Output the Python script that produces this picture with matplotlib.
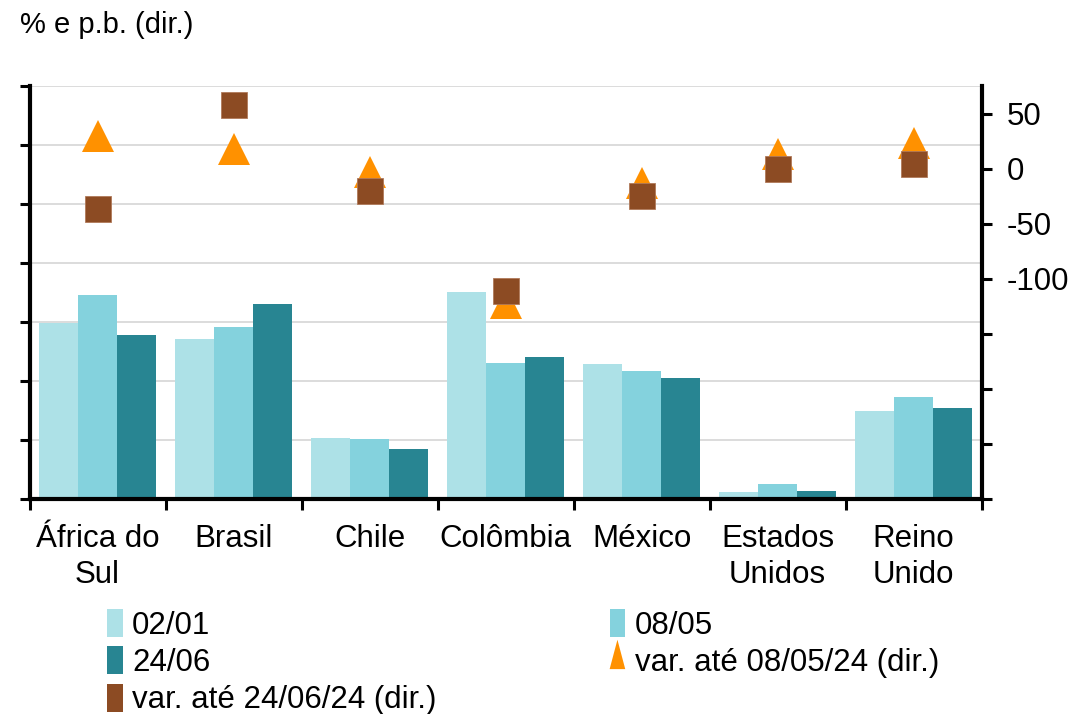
import matplotlib
matplotlib.use("Agg")
import matplotlib.pyplot as plt
import numpy as np
from matplotlib.patches import Patch, Polygon
from matplotlib.legend_handler import HandlerBase

plt.rcParams['font.family'] = ['Liberation Sans', 'DejaVu Sans']

# Data
categories = ["África do\nSul", "Brasil", "Chile", "Colômbia", "México",
              "Estados\nUnidos", "Reino\nUnido"]
nivel_0201 = [2.98, 2.72, 1.04, 3.51, 2.29, 0.12, 1.49]
nivel_0805 = [3.46, 2.92, 1.02, 2.31, 2.17, 0.25, 1.73]
nivel_2406 = [2.78, 3.31, 0.85, 2.41, 2.05, 0.14, 1.54]
var_ate_0805 = [30, 18, -3, -122, -13, 13, 23]
var_ate_2406 = [-37, 58, -20, -111, -25, 0, 4]

left_ticks = list(range(0, 8))
right_ticks = list(range(-300, 51, 50))
right_labeled = [50, 0, -50, -100]

c_0201 = "#ade1e7"
c_0805 = "#84d2dd"
c_2406 = "#288592"
c_tri = "#ff9100"
c_sq = "#8c4b23"

FS = 22.5

fig = plt.figure(figsize=(10.76, 7.14), dpi=100)
ax = fig.add_axes([29.5 / 1076, 1 - 499 / 714, (981.7 - 29.5) / 1076, (499 - 86) / 714])

x = np.arange(len(categories))
w = 0.287
ax.bar(x - w, nivel_0201, w, color=c_0201, zorder=2)
ax.bar(x, nivel_0805, w, color=c_0805, zorder=2)
ax.bar(x + w, nivel_2406, w, color=c_2406, zorder=2)

ax.set_xlim(-0.5, len(categories) - 0.5)
ax.set_ylim(left_ticks[0], left_ticks[-1])
ax.set_yticks(left_ticks)
ax.yaxis.grid(True, color="#d9d9d9", lw=1.3)
ax.set_axisbelow(True)

ax.set_xticks(np.arange(-0.5, len(categories), 1.0))
ax.set_xticklabels([])
ax.set_xticks(x, minor=True)
ax.set_xticklabels(categories, minor=True, fontsize=FS, linespacing=1.25)
ax.tick_params(axis="x", which="major", length=8, width=2.2, direction="out")
ax.tick_params(axis="x", which="minor", length=0, pad=18)
ax.tick_params(axis="y", length=7, width=2.2, direction="out", labelleft=False)

for s in ["left", "bottom"]:
    ax.spines[s].set_linewidth(3)
ax.spines["top"].set_visible(False)
ax.spines["right"].set_visible(False)

ax2 = ax.twinx()
ax2.set_ylim(-300, 75)
ax2.set_yticks(right_ticks)
ax2.set_yticklabels([str(t) if t in right_labeled else "" for t in right_ticks], fontsize=FS)
ax2.tick_params(axis="y", length=7, width=2.2, direction="out", pad=11)
for s in ["left", "bottom", "top"]:
    ax2.spines[s].set_visible(False)
ax2.spines["right"].set_linewidth(3)

ax2.plot(x, var_ate_0805, ls="none", marker="^", ms=22.5, color=c_tri,
         mec=c_tri, mew=0, zorder=3)
ax2.plot(x, var_ate_2406, ls="none", marker="s", ms=18.7, color=c_sq,
         mec="#b07a5a", mew=0.6, zorder=4)


class TriangleHandler(HandlerBase):
    def create_artists(self, legend, orig_handle, xd, yd, width, height, fontsize, trans):
        tri = Polygon([[xd, yd - 0.05 * height], [xd + width, yd - 0.05 * height],
                       [xd + width / 2, yd + height * 1.0]],
                      closed=True, facecolor=c_tri, edgecolor="none", transform=trans)
        return [tri]


tri_handle = Patch(facecolor=c_tri, label="var. até 08/05/24 (dir.)")
handles = [
    Patch(facecolor=c_0201, label="02/01"),
    Patch(facecolor=c_2406, label="24/06"),
    Patch(facecolor=c_sq, label="var. até 24/06/24 (dir.)"),
    Patch(facecolor=c_0805, label="08/05"),
    tri_handle,
]
fig.legend(handles=handles, loc="upper left", bbox_to_anchor=(107 / 1076, 1 - 609 / 714),
           ncol=2, frameon=False, fontsize=FS, handlelength=0.5, handleheight=1.0,
           handletextpad=0.3, columnspacing=5.54, labelspacing=0.18,
           borderpad=0, borderaxespad=0,
           handler_map={tri_handle: TriangleHandler()})

fig.text(20 / 1076, 1 - 25 / 714, "% e p.b. (dir.)", fontsize=21, va="center", ha="left")

fig.savefig("out.png", dpi=100)
